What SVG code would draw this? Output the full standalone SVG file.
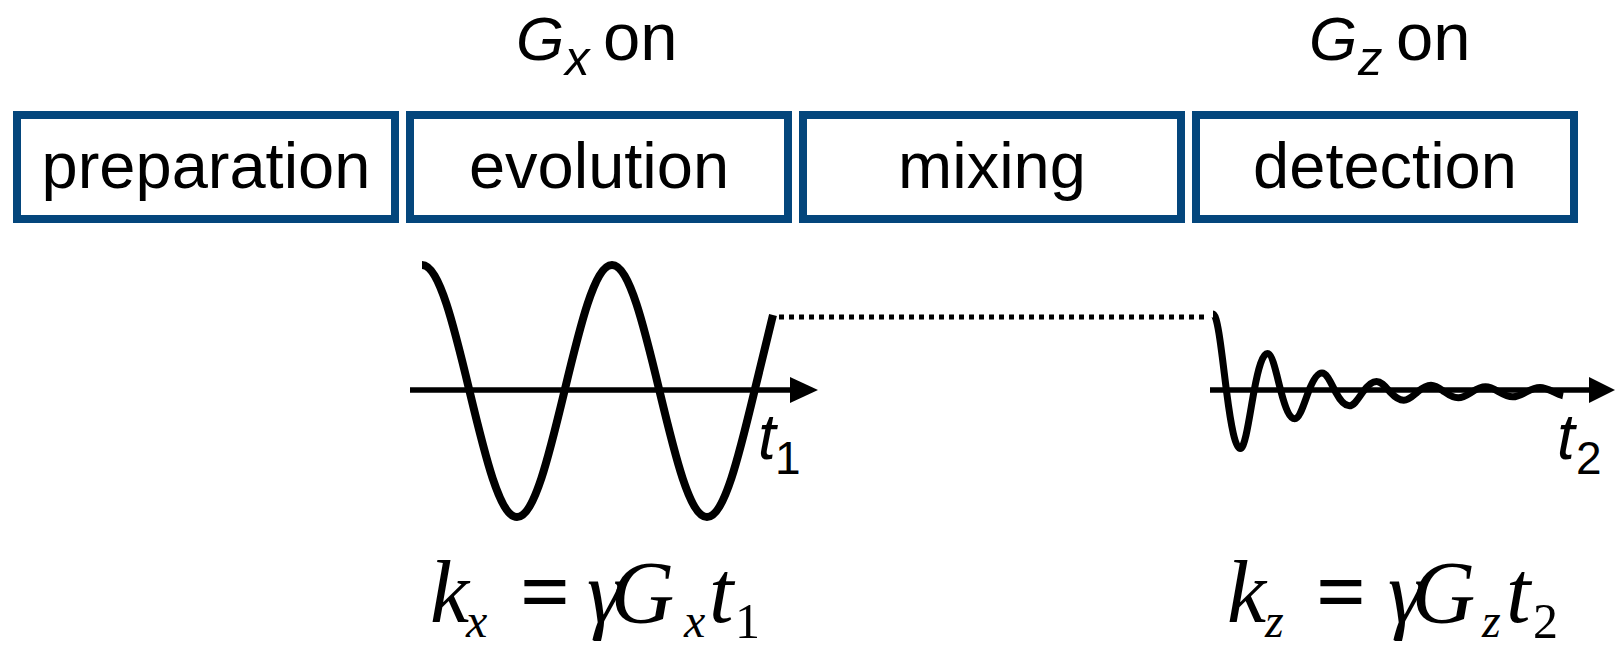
<svg xmlns="http://www.w3.org/2000/svg" width="1616" height="647" viewBox="0 0 1616 647">
<style>
.box{fill:#ffffff;stroke:#04467c;stroke-width:8}
.lbl{font-family:"Liberation Sans",Arial,sans-serif;font-size:65px;fill:#000;text-anchor:middle}
.hs{font-family:"Liberation Sans",Arial,sans-serif;fill:#000}
.it{font-style:italic}
.fm{font-family:"Liberation Serif","Times New Roman",serif;fill:#000}
.wave{fill:none;stroke:#000;stroke-linejoin:round}
.axis{stroke:#000;stroke-width:5.5;fill:none}
.head{fill:#000}
</style>
<rect width="1616" height="647" fill="#ffffff"/>
<g id="node-preparation">
<rect class="box" x="17" y="115" width="378" height="104"/>
<text class="lbl" x="206" y="188">preparation</text>
</g>
<g id="node-evolution">
<rect class="box" x="410" y="115" width="378" height="104"/>
<text class="lbl" x="599" y="188">evolution</text>
</g>
<g id="node-mixing">
<rect class="box" x="803" y="115" width="378" height="104"/>
<text class="lbl" x="992" y="188">mixing</text>
</g>
<g id="node-detection">
<rect class="box" x="1196" y="115" width="378" height="104"/>
<text class="lbl" x="1385" y="188">detection</text>
</g>
<g id="label-gx">
<text class="hs it" x="516" y="60" font-size="62">G</text>
<text class="hs it" x="565" y="75" font-size="49">x</text>
<text class="hs" x="603" y="60" font-size="67">on</text>
</g>
<g id="label-gz">
<text class="hs it" x="1309" y="60" font-size="62">G</text>
<text class="hs it" x="1358" y="75" font-size="49">z</text>
<text class="hs" x="1396" y="60" font-size="67">on</text>
</g>
<g id="axis-t1">
<line class="axis" x1="410" y1="390" x2="792" y2="390"/>
<polygon class="head" points="790,377 818,390 790,403"/>
<text class="hs it" x="758" y="459" font-size="64">t</text>
<text class="hs" x="775" y="474" font-size="46">1</text>
</g>
<g id="axis-t2">
<line class="axis" x1="1210" y1="390" x2="1591" y2="390"/>
<polygon class="head" points="1589,377 1615,390 1589,403"/>
<text class="hs it" x="1557" y="459" font-size="64">t</text>
<text class="hs" x="1576" y="474" font-size="46">2</text>
</g>
<g id="wave-evolution">
<path class="wave" stroke-width="8" d="M 422 265 C 439.2 265, 454 326.5, 469.5 391 C 485 455.5, 499.8 517, 517 517 C 534.2 517, 549 455.5, 564.5 391 C 580 326.5, 594.8 265, 612 265 C 629.2 265, 644 326.5, 659.5 391 C 675 455.5, 689.8 517, 707 517 C 724.2 517, 739 455.5, 754.5 391 C 760.7 365, 766.8 340, 773 315"/>
</g>
<g id="wave-detection">
<path class="wave" stroke-width="7" d="M 1213 314 C 1217.93 314, 1222.18 357.5, 1226.63 392 C 1231.07 426.5, 1235.32 448.6, 1240.25 448.6 C 1245.18 448.6, 1249.43 416.4, 1253.88 392 C 1258.32 367.6, 1262.57 353.4, 1267.5 353.4 C 1272.43 353.4, 1276.68 375.3, 1281.13 392 C 1285.57 408.7, 1289.82 418.7, 1294.75 418.7 C 1299.68 418.7, 1303.93 403.7, 1308.38 392 C 1312.82 380.3, 1317.07 373, 1322 373 C 1326.93 373, 1331.18 383.6, 1335.63 392 C 1340.07 400.4, 1344.32 405.8, 1349.25 405.8 C 1354.18 405.8, 1358.43 398.2, 1362.88 392 C 1367.32 385.8, 1371.57 381.5, 1376.5 381.5 C 1381.43 381.5, 1385.68 387.2, 1390.13 392 C 1394.57 396.8, 1398.82 400.2, 1403.75 400.2 C 1408.68 400.2, 1412.93 395.8, 1417.38 392 C 1421.82 388.2, 1426.07 385.2, 1431 385.2 C 1435.93 385.2, 1440.18 388.8, 1444.63 392 C 1449.07 395.2, 1453.32 397.8, 1458.25 397.8 C 1463.18 397.8, 1467.43 394.8, 1471.88 392 C 1476.32 389.2, 1480.57 386.8, 1485.5 386.8 C 1490.43 386.8, 1494.68 389.4, 1499.13 392 C 1503.57 394.6, 1507.82 396.8, 1512.75 396.8 C 1517.68 396.8, 1521.93 394.4, 1526.38 392 C 1530.82 389.6, 1535.07 387.5, 1540 387.5 C 1544.93 387.5, 1549.18 389.75, 1553.63 392 C 1557 393.7, 1560 395.2, 1563 395.8"/>
</g>
<g id="connectors">
<line x1="779" y1="317" x2="1208" y2="317" stroke="#000" stroke-width="5" stroke-dasharray="5 5"/>
</g>
<g id="formula-x">
<text class="fm it" x="430" y="622" font-size="88">k</text>
<text class="fm it" x="466" y="637" font-size="48">x</text>
<text class="fm" x="520" y="622" font-size="88" font-weight="bold">=</text>
<text class="fm it" x="587" y="622" font-size="88">γ<tspan dx="-11">G</tspan></text>
<text class="fm it" x="684" y="637" font-size="48">x</text>
<text class="fm it" x="709" y="622" font-size="88">t</text>
<text class="fm" x="735" y="638" font-size="50">1</text>
</g>
<g id="formula-z">
<text class="fm it" x="1227" y="622" font-size="88">k</text>
<text class="fm it" x="1265" y="637" font-size="48">z</text>
<text class="fm" x="1316" y="622" font-size="88" font-weight="bold">=</text>
<text class="fm it" x="1388" y="622" font-size="88">γ<tspan dx="-11">G</tspan></text>
<text class="fm it" x="1482" y="637" font-size="48">z</text>
<text class="fm it" x="1506" y="622" font-size="88">t</text>
<text class="fm" x="1533" y="638" font-size="50">2</text>
</g>
</svg>
